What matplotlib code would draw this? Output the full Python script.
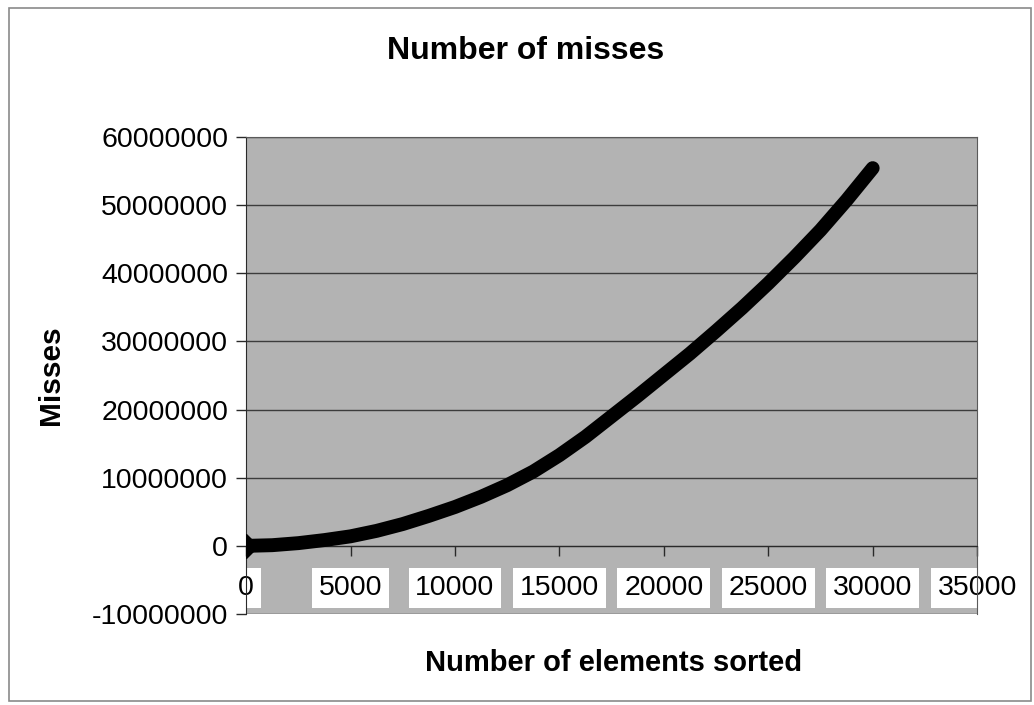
"""
Number of misses vs number of elements sorted (Excel-style line chart)
"""
import matplotlib
matplotlib.use("Agg")
import matplotlib.pyplot as plt
from matplotlib.patches import Rectangle

plt.rcParams['font.family'] = ['Liberation Sans', 'DejaVu Sans']

# values
elements = [0, 1250, 2500, 3750, 5000, 6250, 7500, 8750, 10000, 11250,
            12500, 13750, 15000, 16250, 17500, 18750, 20000, 21250, 22500,
            23750, 25000, 26250, 27500, 28750, 30000]
misses = [0, 100000, 400000, 850000, 1400000, 2200000, 3200000, 4400000,
          5700000, 7200000, 8900000, 10900000, 13300000, 16000000, 19000000,
          22000000, 25100000, 28200000, 31500000, 34900000, 38500000,
          42300000, 46300000, 50700000, 55400000]

x_ticks = [0, 5000, 10000, 15000, 20000, 25000, 30000, 35000]
y_ticks = [-10000000, 0, 10000000, 20000000, 30000000, 40000000,
           50000000, 60000000]


def main():
    fig = plt.figure(figsize=(10.34, 7.05), dpi=100)
    fig.patch.set_facecolor('white')
    # outer chart border
    fig.add_artist(Rectangle((0.009, 0.006), 0.988, 0.983, transform=fig.transFigure,
                             fill=False, edgecolor='#8a8a8a', linewidth=1.2))

    ax = fig.add_axes([0.238, 0.129, 0.707, 0.677])
    ax.set_facecolor('#b3b3b3')

    ax.plot(elements, misses, color='black', linewidth=10,
            solid_capstyle='round', solid_joinstyle='round',
            marker='D', markersize=12, markevery=[0], zorder=3)

    ax.set_xlim(0, 35000)
    ax.set_ylim(-10000000, 60000000)
    ax.set_yticks(y_ticks)
    ax.set_yticklabels([str(v) for v in y_ticks])
    ax.set_xticks(x_ticks)
    ax.set_xticklabels([str(v) for v in x_ticks])

    ax.grid(axis='y', color='#3c3c3c', linewidth=1.0, zorder=1)
    ax.set_axisbelow(True)

    # x axis crosses at y = 0 like in Excel
    ax.spines['bottom'].set_position(('data', 0))
    ax.spines['bottom'].set_color('#2a2a2a')
    ax.spines['left'].set_color('#2a2a2a')
    ax.spines['top'].set_color('#5a5a5a')
    ax.spines['right'].set_color('#5a5a5a')

    ax.tick_params(axis='y', direction='out', length=7, width=1, color='#2a2a2a',
                   labelsize=20.5, pad=6)
    ax.tick_params(axis='x', direction='out', length=7, width=1, color='#2a2a2a',
                   labelsize=20.5, pad=14)
    for lbl in ax.get_xticklabels():
        lbl.set_bbox(dict(facecolor='white', edgecolor='none', pad=5))

    fig.text(0.508, 0.928, 'Number of misses', ha='center', va='center',
             fontsize=23, fontweight='bold')
    fig.text(0.593, 0.059, 'Number of elements sorted', ha='center', va='center',
             fontsize=21, fontweight='bold')
    fig.text(0.049, 0.468, 'Misses', ha='center', va='center', rotation=90,
             fontsize=21.5, fontweight='bold')

    fig.savefig('out.png', dpi=100)


if __name__ == "__main__":
    main()
